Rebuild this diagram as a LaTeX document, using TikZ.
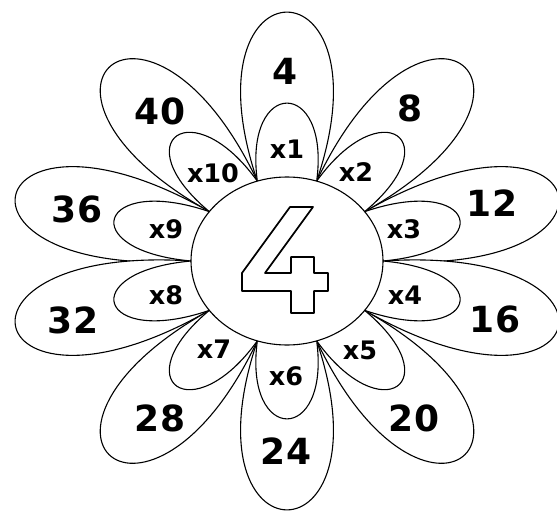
\documentclass[tikz,border=0pt]{standalone}
\usepackage{fontspec}
\setmainfont{DejaVu Sans}
\usetikzlibrary{calc}
\begin{document}
\begin{tikzpicture}[x=1pt,y=1pt,line join=round,
  petal/.style={draw=black,fill=white,line width=1.1pt},
  four/.style={draw=black,fill=white,line width=1.7pt},
  biglab/.style={font=\fontsize{36}{36}\selectfont\bfseries,inner sep=0pt},
  smalllab/.style={font=\fontsize{25.5}{25.5}\selectfont\bfseries,inner sep=0pt}]
\useasboundingbox (0,0) rectangle (557,-511);
\fill[white] (0,0) rectangle (557,-511);
\coordinate (C) at (287,-261);
% big petals
\foreach \k/\ang/\db in {0/13/189,1/47/179,2/90/169,3/133/179,4/167/189,5/193/189,6/227/179,7/270/169,8/313/179,9/347/189}{
  \coordinate (A) at ($(C)+({96*cos(36*\k)},{84*sin(36*\k)})$);
  \coordinate (B) at ($(C)+({96*cos(36*\k+36)},{84*sin(36*\k+36)})$);
  \draw[petal] (A) .. controls ($(A)+(\ang:{\db/0.75})+({\ang-90}:76)$) and ($(B)+(\ang:{\db/0.75})+({\ang+90}:76)$) .. (B) -- cycle;
}
% small petals
\foreach \k/\ang/\ds in {0/12/87.5,1/47/82.8,2/90/78,3/133/82.8,4/168/87.5,5/192/87.5,6/227/82.8,7/270/78,8/313/82.8,9/348/87.5}{
  \coordinate (A) at ($(C)+({96*cos(36*\k)},{84*sin(36*\k)})$);
  \coordinate (B) at ($(C)+({96*cos(36*\k+36)},{84*sin(36*\k+36)})$);
  \draw[petal] (A) .. controls ($(A)+(\ang:{\ds/0.75})+({\ang-90}:14)$) and ($(B)+(\ang:{\ds/0.75})+({\ang+90}:14)$) .. (B) -- cycle;
}
% centre
\draw[petal] (C) ellipse [x radius=96, y radius=84];
\draw[four] (290,-207) -- (313,-207) -- (265,-273) -- (291,-273) -- (291,-257) -- (314,-257) -- (314,-273) -- (328,-273) -- (328,-291) -- (314,-291) -- (314,-313) -- (291,-313) -- (291,-291) -- (242,-291) -- (242,-273) -- cycle;
% labels
\node[biglab] (n4) at (285,-71) {4};
\node[biglab] (n8) at (410,-108) {8};
\node[biglab] (n12) at (492,-203) {12};
\node[biglab] (n16) at (495,-319) {16};
\node[biglab] (n20) at (414,-418) {20};
\node[biglab] (n24) at (286,-451) {24};
\node[biglab] (n28) at (160,-418) {28};
\node[biglab] (n32) at (73,-320) {32};
\node[biglab] (n36) at (77,-209) {36};
\node[biglab] (n40) at (160,-111) {40};
\node[smalllab] (m1) at (287,-149) {x1};
\node[smalllab] (m2) at (356,-172) {x2};
\node[smalllab] (m3) at (404,-229) {x3};
\node[smalllab] (m4) at (405,-295) {x4};
\node[smalllab] (m5) at (360,-350) {x5};
\node[smalllab] (m6) at (286,-376) {x6};
\node[smalllab] (m7) at (214,-349) {x7};
\node[smalllab] (m8) at (166,-295) {x8};
\node[smalllab] (m9) at (166,-229) {x9};
\node[smalllab] (m10) at (213,-173) {x10};
\end{tikzpicture}
\end{document}
